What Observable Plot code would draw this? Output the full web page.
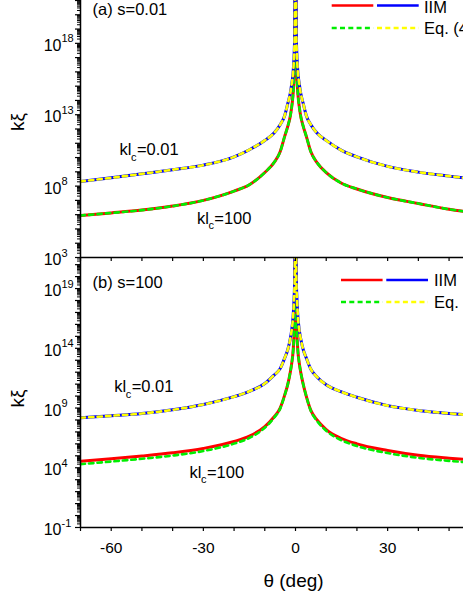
<!DOCTYPE html>
<html><head><meta charset="utf-8">
<script src="https://cdn.jsdelivr.net/npm/d3@7"></script>
<script src="https://cdn.jsdelivr.net/npm/@observablehq/plot@0.6"></script>
<style>
html,body{margin:0;padding:0;background:#fff;}
#wrap{position:relative;width:463px;height:599px;overflow:hidden;background:#fff;font-family:"Liberation Sans",Arial,sans-serif;}
#wrap svg{position:absolute;left:0;max-width:none;overflow:visible;background:transparent;}
</style></head>
<body><div id="wrap"></div>
<script>
// ---------- data ----------
const thetaDeg = [-70,-60,-50,-40,-30,-20,-15,-10,-7,-5,-3.5,-2.5,-1.7,-1.2,-0.8,-0.5,-0.25,-0.1,
                  0.1,0.25,0.5,0.8,1.2,1.7,2.5,3.5,5,7,10,15,20,30,40,50,60,70];
// log10(k xi), panel (a) s = 0.01
const a_IIM_kl001 = [8.33,8.58,8.86,9.15,9.47,10.05,10.55,11.2,11.72,12.3,12.95,13.8,14.5,15.2,15.9,17.0,18.8,23,
                     23,18.8,17.0,15.9,15.2,14.5,13.8,12.95,12.3,11.72,11.2,10.5,10.05,9.38,8.98,8.7,8.45,8.25];
const a_Eq_kl001  = [8.33,8.58,8.86,9.15,9.47,10.05,10.55,11.2,11.72,12.3,12.95,13.8,14.5,15.2,15.9,17.0,18.8,23,
                     23,18.8,17.0,15.9,15.2,14.5,13.8,12.95,12.3,11.72,11.2,10.5,10.05,9.38,8.98,8.7,8.45,8.25];
const a_IIM_kl100 = [5.94,6.12,6.32,6.6,7.0,7.65,8.1,8.95,9.65,10.4,11.5,12.2,12.9,13.6,14.4,15.5,17.5,23,
                     23,17.5,15.5,14.4,13.6,12.9,12.2,11.5,10.4,9.65,8.95,8.2,7.8,7.2,6.78,6.38,6.1,5.85];
const a_Eq_kl100  = [5.94,6.12,6.32,6.6,7.0,7.65,8.1,8.95,9.65,10.4,11.5,12.2,12.9,13.6,14.4,15.5,17.5,23,
                     23,17.5,15.5,14.4,13.6,12.9,12.2,11.5,10.4,9.65,8.95,8.2,7.8,7.2,6.78,6.38,6.1,5.85];
// panel (b) s = 100
const b_IIM_kl001 = [8.18,8.35,8.54,8.85,9.3,9.95,10.4,11.05,11.75,12.3,13.2,13.9,14.8,15.6,16.6,18.0,20.0,24,
                     24,20.0,18.0,16.6,15.6,14.8,13.9,13.2,12.25,11.6,10.95,10.35,9.9,9.2,8.8,8.55,8.33,8.1];
const b_Eq_kl001  = [8.18,8.35,8.54,8.85,9.3,9.95,10.4,11.05,11.75,12.3,13.2,13.9,14.8,15.6,16.6,18.0,20.0,24,
                     24,20.0,18.0,16.6,15.6,14.8,13.9,13.2,12.25,11.6,10.95,10.35,9.9,9.2,8.8,8.55,8.33,8.1];
const b_IIM_kl100 = [4.55,4.75,4.98,5.25,5.62,6.2,6.65,7.45,8.25,9.0,10.1,11.0,12.0,12.8,13.7,15.0,17.5,23,
                     23,17.5,15.0,13.7,12.8,12.0,11.0,10.0,8.8,8.0,7.2,6.45,6.0,5.45,5.05,4.8,4.6,4.45];
const b_Eq_kl100  = [4.3,4.52,4.75,5.02,5.4,6.02,6.5,7.35,8.18,8.95,10.1,11.0,12.0,12.8,13.7,15.0,17.5,23,
                     23,17.5,15.0,13.7,12.8,12.0,11.0,10.0,8.76,7.93,7.1,6.3,5.82,5.23,4.83,4.58,4.38,4.23];
// axis tick labels (exponents)
const a_tickExp = [3, 8, 13, 18];
const b_tickExp = [-1, 4, 9, 14, 19];
const xTickLabels = [-60, -30, 0, 30];
// annotations
const panelTitles = ["(a) s=0.01", "(b) s=100"];
const curveLabelText = ["=0.01", "=100"];
const a_labelTheta = [-57.3, -32.1], a_labelExp = [10.15, 5.38];
const b_labelTheta = [-59.0, -34.5], b_labelExp = [10.32, 3.18];
const legendText = ["IIM", "Eq. (4)"];

// ---------- helpers ----------
const RED = "#ff0000", BLUE = "#0000ff", GREEN = "#00ee00", YELLOW = "#ffff00";
const FONT = '"Liberation Sans", Arial, sans-serif';
const rows = arr => thetaDeg.map((t, i) => ({theta: t, v: Math.pow(10, arr[i])}));
const solid = (arr, c) => Plot.line(rows(arr), {x: "theta", y: "v", stroke: c, strokeWidth: 3, curve: "monotone-x", clip: true});
const dashed = (arr, c) => Plot.line(rows(arr), {x: "theta", y: "v", stroke: c, strokeWidth: 2.6, strokeDasharray: "4.5,4", curve: "monotone-x", clip: true});

function logTicks(e0, e1, maxV) {
  const dec = [], minor = [];
  for (let e = e0; e <= e1; e++) {
    dec.push(Math.pow(10, e));
    for (let m = 2; m <= 9; m++) { const v = m * Math.pow(10, e); if (v <= maxV) minor.push(v); }
  }
  return {dec, minor};
}
const xTicks = d3.range(-70, 71, 10);

function yAxes(exps, e0, e1, maxV) {
  const {dec, minor} = logTicks(e0, e1, maxV);
  const lab = exps.map(e => Math.pow(10, e));
  return [
    Plot.axisY({ticks: dec, tickSize: 5, fill: "none", strokeWidth: 1.2}),
    Plot.axisY({ticks: minor, tickSize: 3, fill: "none", strokeWidth: 1}),
    Plot.axisY({ticks: lab, tickSize: 0, tickPadding: 19, tickFormat: () => "10", fontSize: 16, dy: 2.5}),
    Plot.axisY({ticks: lab, tickSize: 0, tickPadding: 19, textAnchor: "start", fontSize: 11, dy: -4.5,
                tickFormat: d => String(Math.round(Math.log10(d)))})
  ];
}
function curveLabels(thetas, exps) {
  const d = thetas.map((t, i) => ({theta: t, v: Math.pow(10, exps[i]), s: curveLabelText[i]}));
  return [
    Plot.text(d, {x: "theta", y: "v", text: () => "kl", textAnchor: "start", lineAnchor: "bottom", fontSize: 16.5}),
    Plot.text(d, {x: "theta", y: "v", text: () => "c", textAnchor: "start", lineAnchor: "bottom", fontSize: 11, dx: 11.5, dy: 5.5}),
    Plot.text(d, {x: "theta", y: "v", text: "s", textAnchor: "start", lineAnchor: "bottom", fontSize: 16.5, dx: 17.4})
  ];
}

const styleObj = {fontFamily: FONT, color: "#000", background: "transparent", overflow: "visible", maxWidth: "none"};

// ---------- panel (a) ----------
const A = Plot.plot({
  width: 560, height: 272, marginLeft: 80, marginRight: 50, marginTop: 0, marginBottom: 15,
  x: {domain: [-70, 70], label: null},
  y: {type: "log", domain: [1e3, 1e21], label: null},
  style: styleObj,
  marks: [
    solid(a_IIM_kl100, RED), dashed(a_Eq_kl100, GREEN),
    solid(a_IIM_kl001, BLUE), dashed(a_Eq_kl001, YELLOW),
    Plot.ruleX([-70], {strokeWidth: 1.5}),
    Plot.ruleY([1e3], {strokeWidth: 1.5}),
    ...yAxes(a_tickExp, 3, 21, 1e21),
    Plot.axisX({ticks: xTicks, tickSize: 4, fill: "none", strokeWidth: 1.2}),
    Plot.text([panelTitles[0]], {frameAnchor: "top-left", dx: 12, dy: 3, fontSize: 16.5}),
    Plot.text(["kξ"], {frameAnchor: "left", dx: -63, dy: 2, rotate: -90, fontSize: 19}),
    ...curveLabels(a_labelTheta, a_labelExp)
  ]
});

// ---------- panel (b) ----------
const bTop = 21.6;
const B = Plot.plot({
  width: 560, height: 342, marginLeft: 80, marginRight: 50, marginTop: 0, marginBottom: 72,
  x: {domain: [-70, 70], label: null},
  y: {type: "log", domain: [0.1, Math.pow(10, bTop)], label: null},
  style: styleObj,
  marks: [
    solid(b_IIM_kl100, RED), dashed(b_Eq_kl100, GREEN),
    solid(b_IIM_kl001, BLUE), dashed(b_Eq_kl001, YELLOW),
    Plot.ruleX([-70], {strokeWidth: 1.5}),
    Plot.ruleY([0.1], {strokeWidth: 1.5}),
    ...yAxes(b_tickExp, -1, 21, Math.pow(10, bTop)),
    Plot.axisX({ticks: xTicks, tickSize: 4, fill: "none", strokeWidth: 1.2}),
    Plot.axisX({ticks: xTickLabels, tickSize: 0, tickPadding: 14, fontSize: 15.5, tickFormat: d => String(d)}),
    Plot.text([panelTitles[1]], {frameAnchor: "top-left", dx: 12, dy: 18.5, fontSize: 16.5}),
    Plot.text(["kξ"], {frameAnchor: "left", dx: -63, dy: 15, rotate: -90, fontSize: 19}),
    Plot.text(["θ (deg)"], {frameAnchor: "bottom", dx: -2, dy: 53, fontSize: 19, lineAnchor: "middle"}),
    ...curveLabels(b_labelTheta, b_labelExp)
  ]
});

const wrap = document.getElementById("wrap");
A.style.top = "0px"; B.style.top = "257px";
wrap.appendChild(B); wrap.appendChild(A);

// ---------- legends (overlay) ----------
const NS = "http://www.w3.org/2000/svg";
const leg = document.createElementNS(NS, "svg");
leg.setAttribute("width", 463); leg.setAttribute("height", 599);
leg.style.top = "0px"; leg.style.fontFamily = FONT;
function seg(x1, x2, y, c, dash) {
  const l = document.createElementNS(NS, "line");
  l.setAttribute("x1", x1); l.setAttribute("x2", x2); l.setAttribute("y1", y); l.setAttribute("y2", y);
  l.setAttribute("stroke", c); l.setAttribute("stroke-width", 2.6);
  if (dash) l.setAttribute("stroke-dasharray", "5,3.3");
  leg.appendChild(l);
}
function txt(x, y, s) {
  const t = document.createElementNS(NS, "text");
  t.setAttribute("x", x); t.setAttribute("y", y); t.setAttribute("font-size", 16.5);
  t.textContent = s; leg.appendChild(t);
}
function legend(x0, yTop, yBot, tx, b1, b2) {
  seg(x0, x0 + 41.6, yTop, RED); seg(x0 + 45.3, x0 + 87, yTop, BLUE);
  seg(x0, x0 + 41.6, yBot, GREEN, true); seg(x0 + 45.3, x0 + 87, yBot, YELLOW, true);
  txt(tx, b1, legendText[0]); txt(tx, b2, legendText[1]);
}
legend(331.7, 5.5, 28, 424, 13, 34.3);
legend(341, 280, 302, 434, 286, 308.3);
wrap.appendChild(leg);
</script>
</body></html>
